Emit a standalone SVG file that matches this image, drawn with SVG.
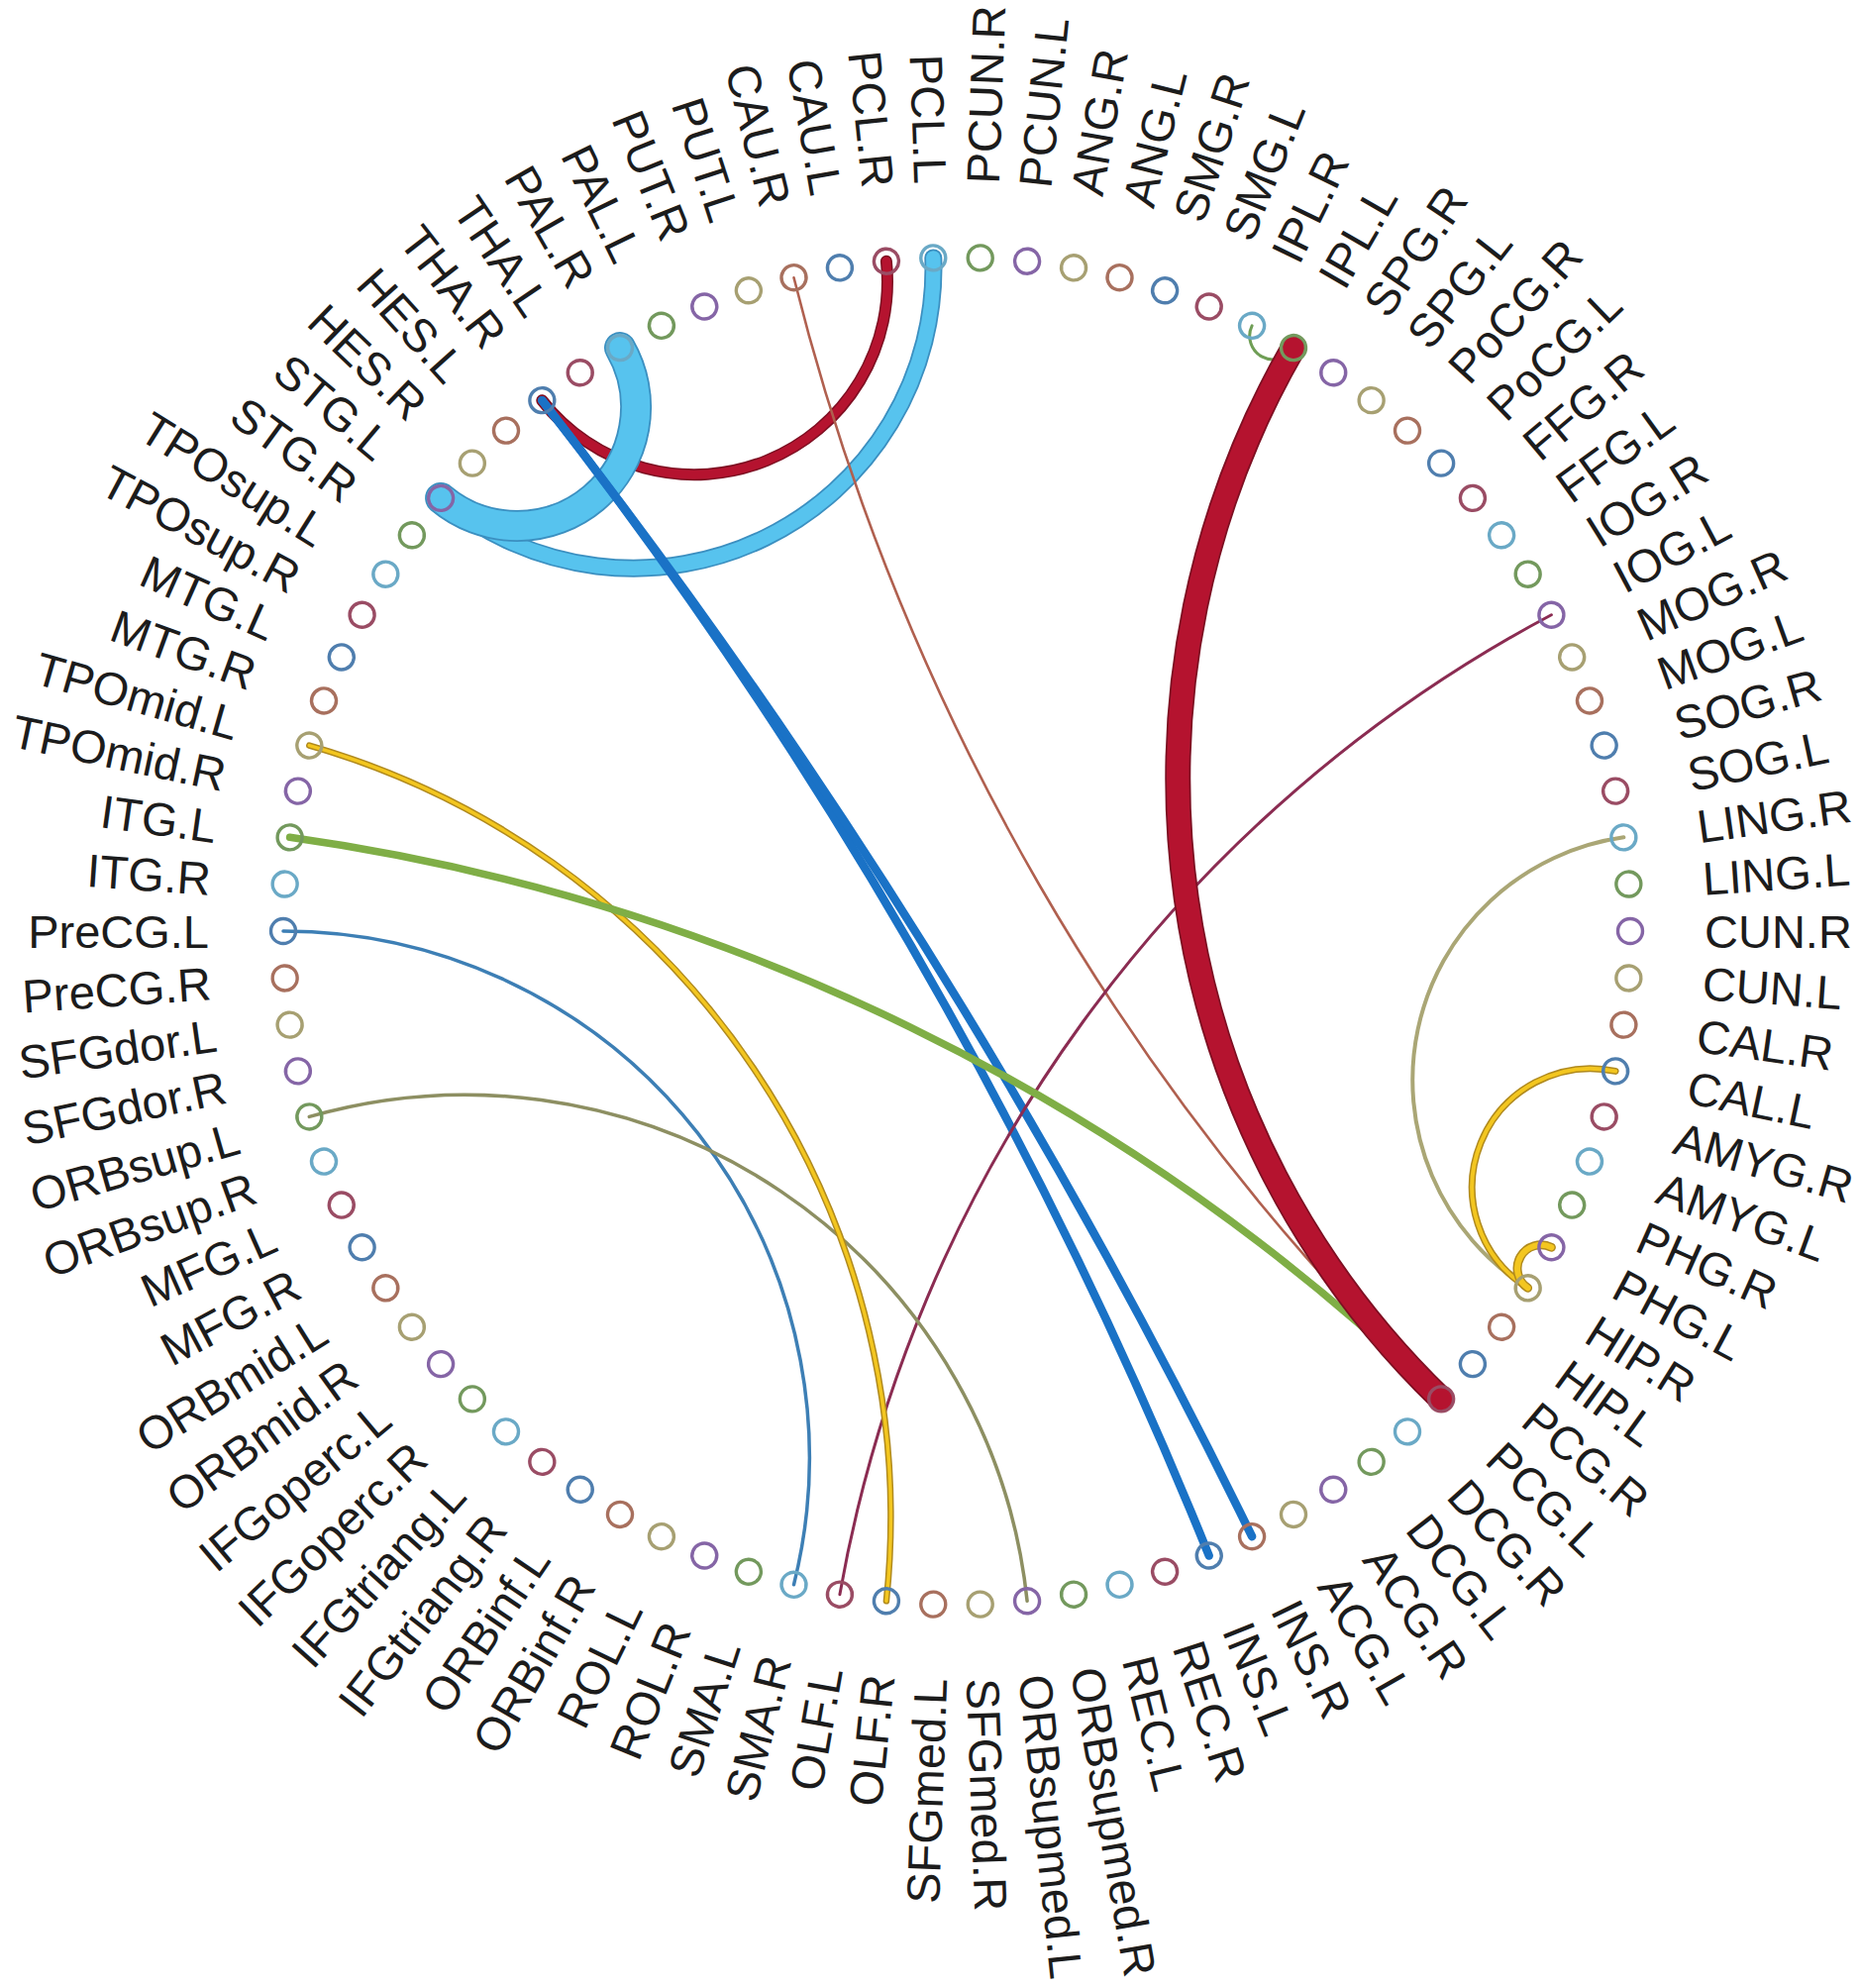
<svg xmlns="http://www.w3.org/2000/svg" width="1878" height="2007" viewBox="0 0 1878 2007">
<style>
text{font-family:"Liberation Sans",Arial,sans-serif;font-size:47px;fill:#1c1c1c;dominant-baseline:central}
.r{text-anchor:start}.l{text-anchor:end}
circle{fill:none;stroke-width:3.4}
.k0{stroke:#4f7eae}.k1{stroke:#a8705e}.k2{stroke:#a7a072}.k3{stroke:#8565a6}.k4{stroke:#73995d}.k5{stroke:#6aa9c6}.k6{stroke:#9a4c64}
path{fill:none;stroke-linecap:round}
</style>
<rect width="1878" height="2007" fill="#fff"/>
<g id="connectors">
<path d="M547.3,404.2 A195,195 0 0 0 894.9,263.7" stroke="#7d0f22" stroke-width="12"/>
<path d="M547.3,404.2 A195,195 0 0 0 894.9,263.7" stroke="#b5132f" stroke-width="9"/>
<path d="M445.1,502.9 A302.8,302.8 0 0 0 942.3,260.4" stroke="#3b8fc0" stroke-width="18"/>
<path d="M445.1,502.9 A302.8,302.8 0 0 0 942.3,260.4" stroke="#57c3ee" stroke-width="14.5"/>
<path d="M445.1,502.9 A119.9,119.9 0 0 0 626,351.1" stroke="#3b8fc0" stroke-width="32"/>
<path d="M445.1,502.9 A119.9,119.9 0 0 0 626,351.1" stroke="#57c3ee" stroke-width="28.5"/>
<path d="M1220.7,1570.5 A4838,4838 0 0 0 547.3,404.2" stroke="#1a72c6" stroke-width="8.5"/>
<path d="M1264.1,1551.2 A6470,6470 0 0 0 547.3,404.2" stroke="#1a72c6" stroke-width="8.5"/>
<path d="M801.5,280.2 A2371.5,2371.5 0 0 0 1455.1,1412.4" stroke="#b0604f" stroke-width="2.6"/>
<path d="M1566.4,620.7 A1394.2,1394.2 0 0 0 847.9,1609.7" stroke="#8b2c52" stroke-width="3"/>
<path d="M801.5,1599.8 A531.3,531.3 0 0 0 286,940" stroke="#3d7fb5" stroke-width="3.5"/>
<path d="M1037.1,1616.3 A570.6,570.6 0 0 0 312.3,1127.4" stroke="#8d8f62" stroke-width="3.5"/>
<path d="M894.9,1616.3 A810.4,810.4 0 0 0 312.3,752.6" stroke="#b08a1e" stroke-width="6.5"/>
<path d="M894.9,1616.3 A810.4,810.4 0 0 0 312.3,752.6" stroke="#f3c61f" stroke-width="3.5"/>
<path d="M1639.4,845.3 A247.5,247.5 0 0 0 1542.6,1300.3" stroke="#aaa675" stroke-width="4"/>
<path d="M1631.1,1081.4 A119.9,119.9 0 0 0 1542.6,1300.3" stroke="#b08a1e" stroke-width="7"/>
<path d="M1631.1,1081.4 A119.9,119.9 0 0 0 1542.6,1300.3" stroke="#f3c61f" stroke-width="4"/>
<path d="M1566.4,1259.3 A23.75,23.75 0 0 0 1542.6,1300.3" stroke="#b08a1e" stroke-width="9"/>
<path d="M1566.4,1259.3 A23.75,23.75 0 0 0 1542.6,1300.3" stroke="#f3c61f" stroke-width="6"/>
<path d="M1264.1,328.8 A23.75,23.75 0 0 0 1306,351.1" stroke="#6f9e55" stroke-width="3"/>
<path d="M1455.1,1412.4 A2092.8,2092.8 0 0 0 292.6,845.3" stroke="#7fae46" stroke-width="7.5"/>
<path d="M1306,351.1 A870.3,870.3 0 0 0 1455.1,1412.4" stroke="#7d0f22" stroke-width="26"/>
<path d="M1306,351.1 A870.3,870.3 0 0 0 1455.1,1412.4" stroke="#b5132f" stroke-width="22.5"/>
<circle cx="1075" cy="1193" r="3" fill="#e2502a" stroke="none"/>
</g>
<g id="nodes">
<g id="n-PCL.L"><circle class="k5" cx="966" cy="260" r="12.5" transform="rotate(-2 966 940)"/><text class="l" x="211" y="940" transform="rotate(88 966 940)">PCL.L</text></g>
<g id="n-PCUN.R"><circle class="k4" cx="966" cy="260" r="12.5" transform="rotate(2 966 940)"/><text class="r" x="1721" y="940" transform="rotate(-88 966 940)">PCUN.R</text></g>
<g id="n-PCUN.L"><circle class="k3" cx="966" cy="260" r="12.5" transform="rotate(6 966 940)"/><text class="r" x="1721" y="940" transform="rotate(-84 966 940)">PCUN.L</text></g>
<g id="n-ANG.R"><circle class="k2" cx="966" cy="260" r="12.5" transform="rotate(10 966 940)"/><text class="r" x="1721" y="940" transform="rotate(-80 966 940)">ANG.R</text></g>
<g id="n-ANG.L"><circle class="k1" cx="966" cy="260" r="12.5" transform="rotate(14 966 940)"/><text class="r" x="1721" y="940" transform="rotate(-76 966 940)">ANG.L</text></g>
<g id="n-SMG.R"><circle class="k0" cx="966" cy="260" r="12.5" transform="rotate(18 966 940)"/><text class="r" x="1721" y="940" transform="rotate(-72 966 940)">SMG.R</text></g>
<g id="n-SMG.L"><circle class="k6" cx="966" cy="260" r="12.5" transform="rotate(22 966 940)"/><text class="r" x="1721" y="940" transform="rotate(-68 966 940)">SMG.L</text></g>
<g id="n-IPL.R"><circle class="k5" cx="966" cy="260" r="12.5" transform="rotate(26 966 940)"/><text class="r" x="1721" y="940" transform="rotate(-64 966 940)">IPL.R</text></g>
<g id="n-IPL.L"><circle class="k4" cx="966" cy="260" r="12.5" transform="rotate(30 966 940)"/><text class="r" x="1721" y="940" transform="rotate(-60 966 940)">IPL.L</text></g>
<g id="n-SPG.R"><circle class="k3" cx="966" cy="260" r="12.5" transform="rotate(34 966 940)"/><text class="r" x="1721" y="940" transform="rotate(-56 966 940)">SPG.R</text></g>
<g id="n-SPG.L"><circle class="k2" cx="966" cy="260" r="12.5" transform="rotate(38 966 940)"/><text class="r" x="1721" y="940" transform="rotate(-52 966 940)">SPG.L</text></g>
<g id="n-PoCG.R"><circle class="k1" cx="966" cy="260" r="12.5" transform="rotate(42 966 940)"/><text class="r" x="1721" y="940" transform="rotate(-48 966 940)">PoCG.R</text></g>
<g id="n-PoCG.L"><circle class="k0" cx="966" cy="260" r="12.5" transform="rotate(46 966 940)"/><text class="r" x="1721" y="940" transform="rotate(-44 966 940)">PoCG.L</text></g>
<g id="n-FFG.R"><circle class="k6" cx="966" cy="260" r="12.5" transform="rotate(50 966 940)"/><text class="r" x="1721" y="940" transform="rotate(-40 966 940)">FFG.R</text></g>
<g id="n-FFG.L"><circle class="k5" cx="966" cy="260" r="12.5" transform="rotate(54 966 940)"/><text class="r" x="1721" y="940" transform="rotate(-36 966 940)">FFG.L</text></g>
<g id="n-IOG.R"><circle class="k4" cx="966" cy="260" r="12.5" transform="rotate(58 966 940)"/><text class="r" x="1721" y="940" transform="rotate(-32 966 940)">IOG.R</text></g>
<g id="n-IOG.L"><circle class="k3" cx="966" cy="260" r="12.5" transform="rotate(62 966 940)"/><text class="r" x="1721" y="940" transform="rotate(-28 966 940)">IOG.L</text></g>
<g id="n-MOG.R"><circle class="k2" cx="966" cy="260" r="12.5" transform="rotate(66 966 940)"/><text class="r" x="1721" y="940" transform="rotate(-24 966 940)">MOG.R</text></g>
<g id="n-MOG.L"><circle class="k1" cx="966" cy="260" r="12.5" transform="rotate(70 966 940)"/><text class="r" x="1721" y="940" transform="rotate(-20 966 940)">MOG.L</text></g>
<g id="n-SOG.R"><circle class="k0" cx="966" cy="260" r="12.5" transform="rotate(74 966 940)"/><text class="r" x="1721" y="940" transform="rotate(-16 966 940)">SOG.R</text></g>
<g id="n-SOG.L"><circle class="k6" cx="966" cy="260" r="12.5" transform="rotate(78 966 940)"/><text class="r" x="1721" y="940" transform="rotate(-12 966 940)">SOG.L</text></g>
<g id="n-LING.R"><circle class="k5" cx="966" cy="260" r="12.5" transform="rotate(82 966 940)"/><text class="r" x="1721" y="940" transform="rotate(-8 966 940)">LING.R</text></g>
<g id="n-LING.L"><circle class="k4" cx="966" cy="260" r="12.5" transform="rotate(86 966 940)"/><text class="r" x="1721" y="940" transform="rotate(-4 966 940)">LING.L</text></g>
<g id="n-CUN.R"><circle class="k3" cx="966" cy="260" r="12.5" transform="rotate(90 966 940)"/><text class="r" x="1721" y="940" transform="rotate(0 966 940)">CUN.R</text></g>
<g id="n-CUN.L"><circle class="k2" cx="966" cy="260" r="12.5" transform="rotate(94 966 940)"/><text class="r" x="1721" y="940" transform="rotate(4 966 940)">CUN.L</text></g>
<g id="n-CAL.R"><circle class="k1" cx="966" cy="260" r="12.5" transform="rotate(98 966 940)"/><text class="r" x="1721" y="940" transform="rotate(8 966 940)">CAL.R</text></g>
<g id="n-CAL.L"><circle class="k0" cx="966" cy="260" r="12.5" transform="rotate(102 966 940)"/><text class="r" x="1721" y="940" transform="rotate(12 966 940)">CAL.L</text></g>
<g id="n-AMYG.R"><circle class="k6" cx="966" cy="260" r="12.5" transform="rotate(106 966 940)"/><text class="r" x="1721" y="940" transform="rotate(16 966 940)">AMYG.R</text></g>
<g id="n-AMYG.L"><circle class="k5" cx="966" cy="260" r="12.5" transform="rotate(110 966 940)"/><text class="r" x="1721" y="940" transform="rotate(20 966 940)">AMYG.L</text></g>
<g id="n-PHG.R"><circle class="k4" cx="966" cy="260" r="12.5" transform="rotate(114 966 940)"/><text class="r" x="1721" y="940" transform="rotate(24 966 940)">PHG.R</text></g>
<g id="n-PHG.L"><circle class="k3" cx="966" cy="260" r="12.5" transform="rotate(118 966 940)"/><text class="r" x="1721" y="940" transform="rotate(28 966 940)">PHG.L</text></g>
<g id="n-HIP.R"><circle class="k2" cx="966" cy="260" r="12.5" transform="rotate(122 966 940)"/><text class="r" x="1721" y="940" transform="rotate(32 966 940)">HIP.R</text></g>
<g id="n-HIP.L"><circle class="k1" cx="966" cy="260" r="12.5" transform="rotate(126 966 940)"/><text class="r" x="1721" y="940" transform="rotate(36 966 940)">HIP.L</text></g>
<g id="n-PCG.R"><circle class="k0" cx="966" cy="260" r="12.5" transform="rotate(130 966 940)"/><text class="r" x="1721" y="940" transform="rotate(40 966 940)">PCG.R</text></g>
<g id="n-PCG.L"><circle class="k6" cx="966" cy="260" r="12.5" transform="rotate(134 966 940)"/><text class="r" x="1721" y="940" transform="rotate(44 966 940)">PCG.L</text></g>
<g id="n-DCG.R"><circle class="k5" cx="966" cy="260" r="12.5" transform="rotate(138 966 940)"/><text class="r" x="1721" y="940" transform="rotate(48 966 940)">DCG.R</text></g>
<g id="n-DCG.L"><circle class="k4" cx="966" cy="260" r="12.5" transform="rotate(142 966 940)"/><text class="r" x="1721" y="940" transform="rotate(52 966 940)">DCG.L</text></g>
<g id="n-ACG.R"><circle class="k3" cx="966" cy="260" r="12.5" transform="rotate(146 966 940)"/><text class="r" x="1721" y="940" transform="rotate(56 966 940)">ACG.R</text></g>
<g id="n-ACG.L"><circle class="k2" cx="966" cy="260" r="12.5" transform="rotate(150 966 940)"/><text class="r" x="1721" y="940" transform="rotate(60 966 940)">ACG.L</text></g>
<g id="n-INS.R"><circle class="k1" cx="966" cy="260" r="12.5" transform="rotate(154 966 940)"/><text class="r" x="1721" y="940" transform="rotate(64 966 940)">INS.R</text></g>
<g id="n-INS.L"><circle class="k0" cx="966" cy="260" r="12.5" transform="rotate(158 966 940)"/><text class="r" x="1721" y="940" transform="rotate(68 966 940)">INS.L</text></g>
<g id="n-REC.R"><circle class="k6" cx="966" cy="260" r="12.5" transform="rotate(162 966 940)"/><text class="r" x="1721" y="940" transform="rotate(72 966 940)">REC.R</text></g>
<g id="n-REC.L"><circle class="k5" cx="966" cy="260" r="12.5" transform="rotate(166 966 940)"/><text class="r" x="1721" y="940" transform="rotate(76 966 940)">REC.L</text></g>
<g id="n-ORBsupmed.R"><circle class="k4" cx="966" cy="260" r="12.5" transform="rotate(170 966 940)"/><text class="r" x="1721" y="940" transform="rotate(80 966 940)">ORBsupmed.R</text></g>
<g id="n-ORBsupmed.L"><circle class="k3" cx="966" cy="260" r="12.5" transform="rotate(174 966 940)"/><text class="r" x="1721" y="940" transform="rotate(84 966 940)">ORBsupmed.L</text></g>
<g id="n-SFGmed.R"><circle class="k2" cx="966" cy="260" r="12.5" transform="rotate(178 966 940)"/><text class="r" x="1721" y="940" transform="rotate(88 966 940)">SFGmed.R</text></g>
<g id="n-SFGmed.L"><circle class="k1" cx="966" cy="260" r="12.5" transform="rotate(182 966 940)"/><text class="l" x="211" y="940" transform="rotate(-88 966 940)">SFGmed.L</text></g>
<g id="n-OLF.R"><circle class="k0" cx="966" cy="260" r="12.5" transform="rotate(186 966 940)"/><text class="l" x="211" y="940" transform="rotate(-84 966 940)">OLF.R</text></g>
<g id="n-OLF.L"><circle class="k6" cx="966" cy="260" r="12.5" transform="rotate(190 966 940)"/><text class="l" x="211" y="940" transform="rotate(-80 966 940)">OLF.L</text></g>
<g id="n-SMA.R"><circle class="k5" cx="966" cy="260" r="12.5" transform="rotate(194 966 940)"/><text class="l" x="211" y="940" transform="rotate(-76 966 940)">SMA.R</text></g>
<g id="n-SMA.L"><circle class="k4" cx="966" cy="260" r="12.5" transform="rotate(198 966 940)"/><text class="l" x="211" y="940" transform="rotate(-72 966 940)">SMA.L</text></g>
<g id="n-ROL.R"><circle class="k3" cx="966" cy="260" r="12.5" transform="rotate(202 966 940)"/><text class="l" x="211" y="940" transform="rotate(-68 966 940)">ROL.R</text></g>
<g id="n-ROL.L"><circle class="k2" cx="966" cy="260" r="12.5" transform="rotate(206 966 940)"/><text class="l" x="211" y="940" transform="rotate(-64 966 940)">ROL.L</text></g>
<g id="n-ORBinf.R"><circle class="k1" cx="966" cy="260" r="12.5" transform="rotate(210 966 940)"/><text class="l" x="211" y="940" transform="rotate(-60 966 940)">ORBinf.R</text></g>
<g id="n-ORBinf.L"><circle class="k0" cx="966" cy="260" r="12.5" transform="rotate(214 966 940)"/><text class="l" x="211" y="940" transform="rotate(-56 966 940)">ORBinf.L</text></g>
<g id="n-IFGtriang.R"><circle class="k6" cx="966" cy="260" r="12.5" transform="rotate(218 966 940)"/><text class="l" x="211" y="940" transform="rotate(-52 966 940)">IFGtriang.R</text></g>
<g id="n-IFGtriang.L"><circle class="k5" cx="966" cy="260" r="12.5" transform="rotate(222 966 940)"/><text class="l" x="211" y="940" transform="rotate(-48 966 940)">IFGtriang.L</text></g>
<g id="n-IFGoperc.R"><circle class="k4" cx="966" cy="260" r="12.5" transform="rotate(226 966 940)"/><text class="l" x="211" y="940" transform="rotate(-44 966 940)">IFGoperc.R</text></g>
<g id="n-IFGoperc.L"><circle class="k3" cx="966" cy="260" r="12.5" transform="rotate(230 966 940)"/><text class="l" x="211" y="940" transform="rotate(-40 966 940)">IFGoperc.L</text></g>
<g id="n-ORBmid.R"><circle class="k2" cx="966" cy="260" r="12.5" transform="rotate(234 966 940)"/><text class="l" x="211" y="940" transform="rotate(-36 966 940)">ORBmid.R</text></g>
<g id="n-ORBmid.L"><circle class="k1" cx="966" cy="260" r="12.5" transform="rotate(238 966 940)"/><text class="l" x="211" y="940" transform="rotate(-32 966 940)">ORBmid.L</text></g>
<g id="n-MFG.R"><circle class="k0" cx="966" cy="260" r="12.5" transform="rotate(242 966 940)"/><text class="l" x="211" y="940" transform="rotate(-28 966 940)">MFG.R</text></g>
<g id="n-MFG.L"><circle class="k6" cx="966" cy="260" r="12.5" transform="rotate(246 966 940)"/><text class="l" x="211" y="940" transform="rotate(-24 966 940)">MFG.L</text></g>
<g id="n-ORBsup.R"><circle class="k5" cx="966" cy="260" r="12.5" transform="rotate(250 966 940)"/><text class="l" x="211" y="940" transform="rotate(-20 966 940)">ORBsup.R</text></g>
<g id="n-ORBsup.L"><circle class="k4" cx="966" cy="260" r="12.5" transform="rotate(254 966 940)"/><text class="l" x="211" y="940" transform="rotate(-16 966 940)">ORBsup.L</text></g>
<g id="n-SFGdor.R"><circle class="k3" cx="966" cy="260" r="12.5" transform="rotate(258 966 940)"/><text class="l" x="211" y="940" transform="rotate(-12 966 940)">SFGdor.R</text></g>
<g id="n-SFGdor.L"><circle class="k2" cx="966" cy="260" r="12.5" transform="rotate(262 966 940)"/><text class="l" x="211" y="940" transform="rotate(-8 966 940)">SFGdor.L</text></g>
<g id="n-PreCG.R"><circle class="k1" cx="966" cy="260" r="12.5" transform="rotate(266 966 940)"/><text class="l" x="211" y="940" transform="rotate(-4 966 940)">PreCG.R</text></g>
<g id="n-PreCG.L"><circle class="k0" cx="966" cy="260" r="12.5" transform="rotate(270 966 940)"/><text class="l" x="211" y="940" transform="rotate(0 966 940)">PreCG.L</text></g>
<g id="n-ITG.R"><circle class="k5" cx="966" cy="260" r="12.5" transform="rotate(274 966 940)"/><text class="l" x="211" y="940" transform="rotate(4 966 940)">ITG.R</text></g>
<g id="n-ITG.L"><circle class="k4" cx="966" cy="260" r="12.5" transform="rotate(278 966 940)"/><text class="l" x="211" y="940" transform="rotate(8 966 940)">ITG.L</text></g>
<g id="n-TPOmid.R"><circle class="k3" cx="966" cy="260" r="12.5" transform="rotate(282 966 940)"/><text class="l" x="211" y="940" transform="rotate(12 966 940)">TPOmid.R</text></g>
<g id="n-TPOmid.L"><circle class="k2" cx="966" cy="260" r="12.5" transform="rotate(286 966 940)"/><text class="l" x="211" y="940" transform="rotate(16 966 940)">TPOmid.L</text></g>
<g id="n-MTG.R"><circle class="k1" cx="966" cy="260" r="12.5" transform="rotate(290 966 940)"/><text class="l" x="211" y="940" transform="rotate(20 966 940)">MTG.R</text></g>
<g id="n-MTG.L"><circle class="k0" cx="966" cy="260" r="12.5" transform="rotate(294 966 940)"/><text class="l" x="211" y="940" transform="rotate(24 966 940)">MTG.L</text></g>
<g id="n-TPOsup.R"><circle class="k6" cx="966" cy="260" r="12.5" transform="rotate(298 966 940)"/><text class="l" x="211" y="940" transform="rotate(28 966 940)">TPOsup.R</text></g>
<g id="n-TPOsup.L"><circle class="k5" cx="966" cy="260" r="12.5" transform="rotate(302 966 940)"/><text class="l" x="211" y="940" transform="rotate(32 966 940)">TPOsup.L</text></g>
<g id="n-STG.R"><circle class="k4" cx="966" cy="260" r="12.5" transform="rotate(306 966 940)"/><text class="l" x="211" y="940" transform="rotate(36 966 940)">STG.R</text></g>
<g id="n-STG.L"><circle class="k3" cx="966" cy="260" r="12.5" transform="rotate(310 966 940)"/><text class="l" x="211" y="940" transform="rotate(40 966 940)">STG.L</text></g>
<g id="n-HES.R"><circle class="k2" cx="966" cy="260" r="12.5" transform="rotate(314 966 940)"/><text class="l" x="211" y="940" transform="rotate(44 966 940)">HES.R</text></g>
<g id="n-HES.L"><circle class="k1" cx="966" cy="260" r="12.5" transform="rotate(318 966 940)"/><text class="l" x="211" y="940" transform="rotate(48 966 940)">HES.L</text></g>
<g id="n-THA.R"><circle class="k0" cx="966" cy="260" r="12.5" transform="rotate(322 966 940)"/><text class="l" x="211" y="940" transform="rotate(52 966 940)">THA.R</text></g>
<g id="n-THA.L"><circle class="k6" cx="966" cy="260" r="12.5" transform="rotate(326 966 940)"/><text class="l" x="211" y="940" transform="rotate(56 966 940)">THA.L</text></g>
<g id="n-PAL.R"><circle class="k5" cx="966" cy="260" r="12.5" transform="rotate(330 966 940)"/><text class="l" x="211" y="940" transform="rotate(60 966 940)">PAL.R</text></g>
<g id="n-PAL.L"><circle class="k4" cx="966" cy="260" r="12.5" transform="rotate(334 966 940)"/><text class="l" x="211" y="940" transform="rotate(64 966 940)">PAL.L</text></g>
<g id="n-PUT.R"><circle class="k3" cx="966" cy="260" r="12.5" transform="rotate(338 966 940)"/><text class="l" x="211" y="940" transform="rotate(68 966 940)">PUT.R</text></g>
<g id="n-PUT.L"><circle class="k2" cx="966" cy="260" r="12.5" transform="rotate(342 966 940)"/><text class="l" x="211" y="940" transform="rotate(72 966 940)">PUT.L</text></g>
<g id="n-CAU.R"><circle class="k1" cx="966" cy="260" r="12.5" transform="rotate(346 966 940)"/><text class="l" x="211" y="940" transform="rotate(76 966 940)">CAU.R</text></g>
<g id="n-CAU.L"><circle class="k0" cx="966" cy="260" r="12.5" transform="rotate(350 966 940)"/><text class="l" x="211" y="940" transform="rotate(80 966 940)">CAU.L</text></g>
<g id="n-PCL.R"><circle class="k6" cx="966" cy="260" r="12.5" transform="rotate(354 966 940)"/><text class="l" x="211" y="940" transform="rotate(84 966 940)">PCL.R</text></g>
</g>
</svg>
